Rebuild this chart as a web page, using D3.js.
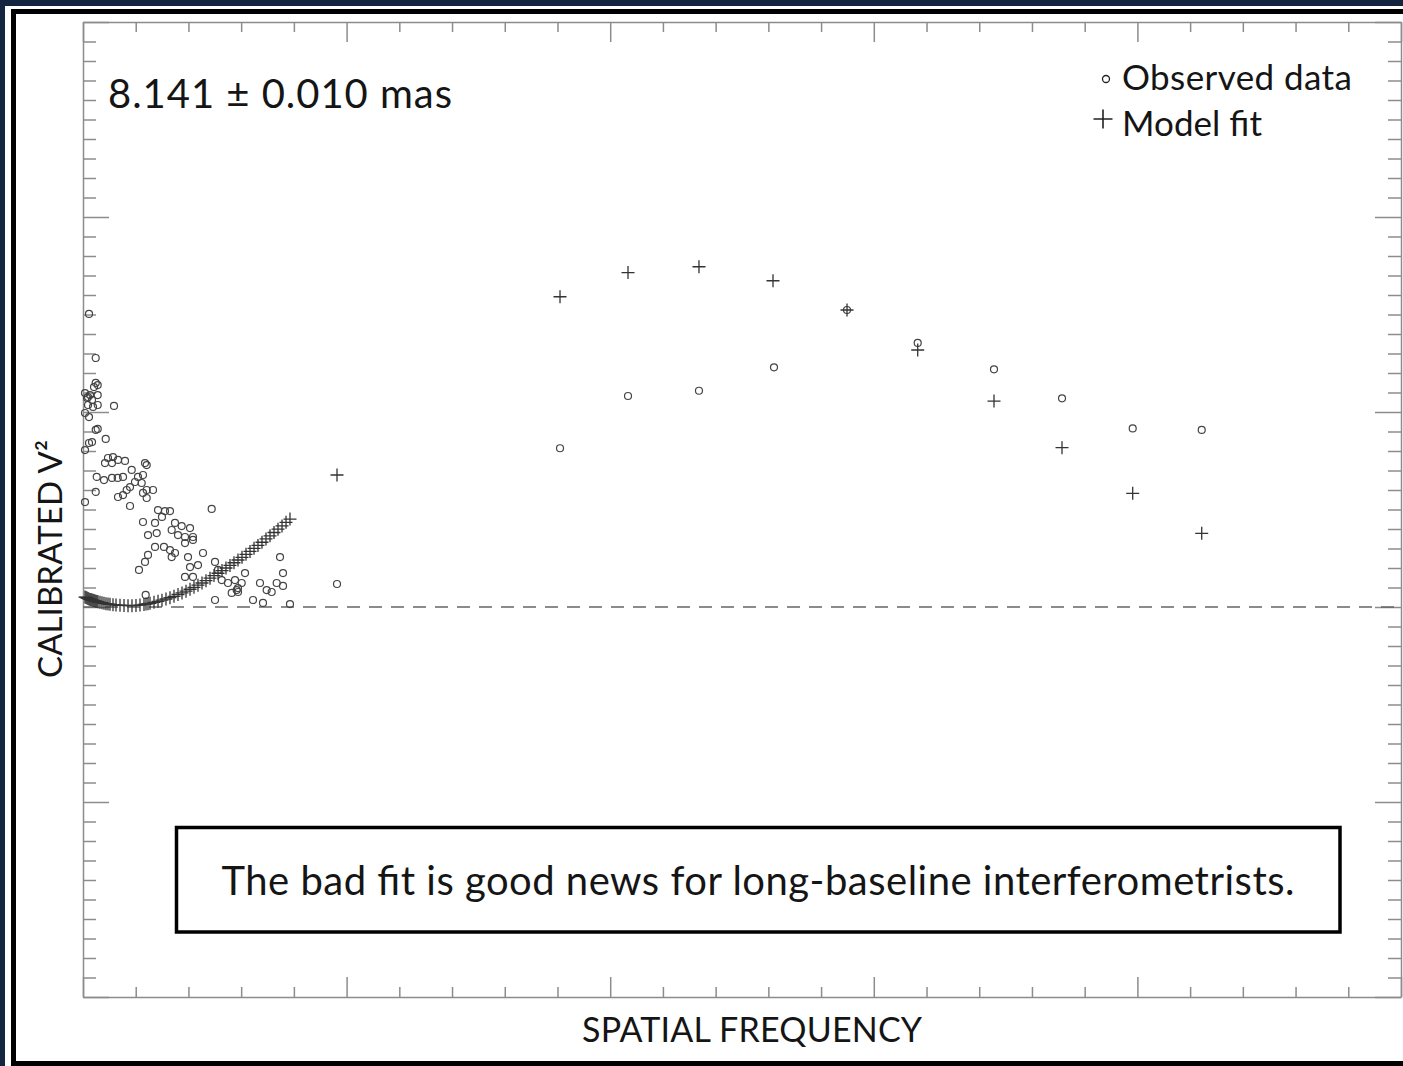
<!DOCTYPE html>
<html>
<head>
<meta charset="utf-8">
<script src="https://cdn.jsdelivr.net/npm/d3@7"></script>
<style>
  html, body { margin: 0; padding: 0; background: #13253f; overflow: hidden; }
  svg { display: block; }
  text { font-family: Lato, "Open Sans", sans-serif; fill: #151515; }
</style>
</head>
<body>
<script>
// spatial frequency in minor-tick units (axis runs 0..25), V² in units of 1e-3
const obsFreq = [
  0.114, 0.241, 0.241, 0.279, 0.209, 0.038, 0.133, 0.076, 0.171, 0.095,
  0.279, 0.588, 0.095, 0.190, 0.279, 0.038, 0.114, 0.241, 0.279, 0.431,
  0.114, 0.171, 0.038, 0.474, 0.569, 0.664, 0.797, 0.550, 0.417, 1.208,
  1.176, 0.260, 0.398, 0.550, 0.658, 0.759, 0.924, 1.043, 0.986, 1.113,
  1.138, 0.241, 0.664, 0.759, 0.829, 0.892, 1.208, 1.328, 1.138, 1.208,
  0.038, 0.892, 1.423, 1.555, 1.650, 1.498, 1.138, 1.366, 1.233, 1.398,
  1.745, 1.872, 2.030, 1.682, 1.802, 1.935, 2.086, 2.086, 1.935, 1.366,
  1.536, 1.650, 1.745, 1.682, 1.233, 1.176, 1.062, 2.441, 1.992, 2.030,
  2.086, 1.935, 2.181, 2.276, 2.504, 2.561, 2.631, 2.750, 2.883, 2.940,
  3.010, 3.073, 2.821, 2.504, 1.189, 2.915, 2.940, 3.225, 3.414, 3.357,
  3.484, 3.579, 3.674, 3.737, 3.794, 3.794, 3.926,
  4.818, 9.048, 10.338, 11.684, 13.107, 14.492, 15.833, 17.280, 18.570, 19.911, 21.220
];
const obsV2 = [
  15.03, 12.77, 11.49, 11.38, 11.28, 10.97, 10.87, 10.72, 10.62, 10.77,
  10.87, 10.31, 10.36, 10.26, 10.36, 9.95, 9.74, 9.08, 9.13, 8.62,
  8.41, 8.46, 8.05, 7.64, 7.69, 7.54, 7.49, 7.38, 7.38, 7.28,
  7.38, 6.67, 6.51, 6.62, 6.62, 6.67, 7.03, 6.67, 6.41, 6.36,
  6.77, 5.90, 5.64, 5.74, 6.00, 6.15, 6.00, 6.00, 5.85, 5.59,
  5.38, 5.18, 4.97, 4.92, 4.92, 4.62, 4.36, 4.31, 3.69, 3.79,
  4.31, 4.15, 4.05, 3.95, 3.69, 3.59, 3.59, 3.44, 3.28, 3.08,
  3.08, 2.92, 2.77, 2.56, 2.67, 2.31, 1.90, 5.03, 2.56, 2.05,
  1.54, 1.54, 2.15, 2.77, 2.31, 1.90, 1.38, 1.23, 1.38, 0.97,
  1.23, 1.74, 0.72, 0.36, 0.62, 0.87, 0.77, 0.36, 0.21, 1.23,
  0.87, 0.77, 1.23, 2.56, 1.74, 1.08, 0.15,
  1.18, 8.14, 10.82, 11.09, 12.29, 15.23, 13.54, 12.19, 10.70, 9.16, 9.08
];
const fitFreq = [
  0.038, 0.057, 0.076, 0.095, 0.114, 0.133, 0.152, 0.171, 0.190, 0.209,
  0.228, 0.247, 0.266, 0.285, 0.322, 0.360, 0.398, 0.436, 0.474, 0.512,
  0.569, 0.626, 0.702, 0.778, 0.854, 0.929, 1.005, 1.081, 1.157, 1.195,
  1.233, 1.271, 1.347, 1.423, 1.498, 1.574, 1.650, 1.726, 1.802, 1.878,
  1.954, 2.030, 2.105, 2.181, 2.257, 2.333, 2.409, 2.485, 2.561, 2.637,
  2.712, 2.788, 2.864, 2.940, 3.016, 3.092, 3.168, 3.244, 3.319, 3.395,
  3.471, 3.547, 3.623, 3.699, 3.775, 3.851, 3.926,
  4.818, 9.048, 10.338, 11.684, 13.088, 14.492, 15.833, 17.280, 18.570, 19.911, 21.220
];
const fitV2 = [
  0.51, 0.49, 0.46, 0.44, 0.41, 0.39, 0.38, 0.36, 0.34, 0.33,
  0.31, 0.30, 0.28, 0.27, 0.24, 0.22, 0.19, 0.17, 0.15, 0.14,
  0.12, 0.10, 0.09, 0.08, 0.07, 0.07, 0.08, 0.10, 0.13, 0.15,
  0.17, 0.19, 0.24, 0.29, 0.35, 0.41, 0.48, 0.55, 0.64, 0.72,
  0.81, 0.91, 1.01, 1.12, 1.23, 1.35, 1.48, 1.61, 1.73, 1.87,
  2.00, 2.13, 2.27, 2.41, 2.55, 2.70, 2.85, 3.01, 3.16, 3.32,
  3.49, 3.65, 3.82, 3.99, 4.16, 4.34, 4.51,
  6.77, 15.91, 17.15, 17.45, 16.73, 15.23, 13.18, 10.56, 8.17, 5.83, 3.78
];
const xTicks = d3.range(0, 26);
const yTicks = d3.range(-20, 31);

const canvasWidth = 1403;
const canvasHeight = 1066;
const margin = { top: 22, right: 2, bottom: 69, left: 83 };
const width = canvasWidth - margin.left - margin.right;
const height = canvasHeight - margin.top - margin.bottom;

const svg = d3.select("body")
  .append("svg")
  .attr("width", canvasWidth)
  .attr("height", canvasHeight);

// white panel with the heavy black frame
svg.append("rect")
  .attr("x", 5).attr("y", 6)
  .attr("width", 1440).attr("height", 1100)
  .attr("fill", "#fff");
svg.append("rect")
  .attr("x", 13.5).attr("y", 11.5)
  .attr("width", 1440).attr("height", 1052)
  .attr("fill", "none")
  .attr("stroke", "#000")
  .attr("stroke-width", 5);

const plot = svg.append("g")
  .attr("transform", `translate(${margin.left},${margin.top})`);

const x = d3.scaleLinear().domain([0, 25]).range([0, width]);
const y = d3.scaleLinear().domain([-20, 30]).range([height, 0]);

const axisColor = "#8c8c8c";

function styleAxis(g) {
  g.selectAll("path, line").attr("stroke", axisColor).attr("stroke-width", 1.5);
}

plot.append("g")
  .attr("transform", `translate(0,${height})`)
  .call(d3.axisBottom(x).tickValues(xTicks).tickSize(0).tickSizeOuter(0).tickFormat(""))
  .call(styleAxis)
  .selectAll(".tick line")
  .attr("y2", (d) => (d % 5 === 0 ? -20 : -10));

plot.append("g")
  .call(d3.axisTop(x).tickValues(xTicks).tickSize(0).tickSizeOuter(0).tickFormat(""))
  .call(styleAxis)
  .selectAll(".tick line")
  .attr("y2", (d) => (d % 5 === 0 ? 20 : 10));

plot.append("g")
  .call(d3.axisLeft(y).tickValues(yTicks).tickSize(0).tickSizeOuter(0).tickFormat(""))
  .call(styleAxis)
  .selectAll(".tick line")
  .attr("x2", (d) => (d % 10 === 0 ? 26 : 13));

plot.append("g")
  .attr("transform", `translate(${width},0)`)
  .call(d3.axisRight(y).tickValues(yTicks).tickSize(0).tickSizeOuter(0).tickFormat(""))
  .call(styleAxis)
  .selectAll(".tick line")
  .attr("x2", (d) => (d % 10 === 0 ? -26 : -13));

// zero line
plot.append("line")
  .attr("x1", x(0)).attr("x2", x(25))
  .attr("y1", y(0)).attr("y2", y(0))
  .attr("stroke", "#666")
  .attr("stroke-width", 1.3)
  .attr("stroke-dasharray", "13,9");

const obs = d3.zip(obsFreq, obsV2);
const fit = d3.zip(fitFreq, fitV2);

plot.selectAll(".obs")
  .data(obs)
  .join("circle")
  .attr("class", "obs")
  .attr("cx", (d) => x(d[0]))
  .attr("cy", (d) => y(d[1]))
  .attr("r", 3.5)
  .attr("fill", "none")
  .attr("stroke", "#444")
  .attr("stroke-width", 1.2);

const plus = (cx, cy, s) => `M${cx - s},${cy}h${2 * s}M${cx},${cy - s}v${2 * s}`;

plot.selectAll(".fit")
  .data(fit)
  .join("path")
  .attr("class", "fit")
  .attr("d", (d) => plus(x(d[0]), y(d[1]), 6.5))
  .attr("fill", "none")
  .attr("stroke", "#333")
  .attr("stroke-width", 1.3);

// diameter
svg.append("text")
  .attr("x", 108).attr("y", 108)
  .attr("font-size", 40)
  .attr("textLength", 344)
  .text("8.141 ± 0.010 mas");

// legend
svg.append("circle")
  .attr("cx", 1106).attr("cy", 79).attr("r", 3.5)
  .attr("fill", "none").attr("stroke", "#222").attr("stroke-width", 1.3);
svg.append("text")
  .attr("x", 1122).attr("y", 90)
  .attr("font-size", 35)
  .attr("textLength", 230)
  .text("Observed data");
svg.append("path")
  .attr("d", plus(1103, 119, 9.5))
  .attr("stroke", "#222").attr("stroke-width", 1.6);
svg.append("text")
  .attr("x", 1122).attr("y", 136)
  .attr("font-size", 35)
  .attr("textLength", 140)
  .text("Model fit");

// axis titles
svg.append("text")
  .attr("x", 752).attr("y", 1042)
  .attr("text-anchor", "middle")
  .attr("font-size", 34)
  .attr("textLength", 340)
  .text("SPATIAL FREQUENCY");
svg.append("text")
  .attr("transform", "translate(62,559) rotate(-90)")
  .attr("text-anchor", "middle")
  .attr("font-size", 33)
  .attr("textLength", 238)
  .text("CALIBRATED V²");

// annotation box
svg.append("rect")
  .attr("x", 176.5).attr("y", 827.5)
  .attr("width", 1163.5).attr("height", 104.5)
  .attr("fill", "#fff")
  .attr("stroke", "#000")
  .attr("stroke-width", 3.5);
svg.append("text")
  .attr("x", 758).attr("y", 895)
  .attr("text-anchor", "middle")
  .attr("font-size", 40)
  .attr("textLength", 1073)
  .attr("fill", "#000")
  .text("The bad fit is good news for long-baseline interferometrists.");
</script>
</body>
</html>
